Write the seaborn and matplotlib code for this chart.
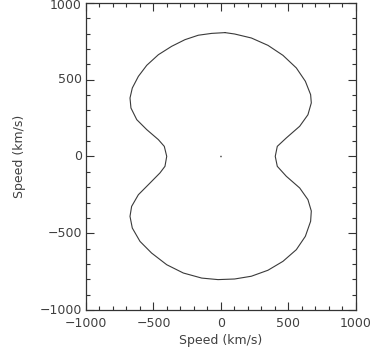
import matplotlib
matplotlib.use("Agg")
import matplotlib.pyplot as plt
from matplotlib.ticker import MultipleLocator
from matplotlib.transforms import ScaledTranslation
import pandas as pd
import seaborn as sns

# Closed velocity contour, traced counter-clockwise from the top
vx = [30, -69, -168, -267, -365, -464, -550, -612, -657, -674, -667, -624,
      -550, -464, -420, -402, -415, -452, -526, -612, -662, -674, -657,
      -600, -514, -402, -279, -143, -22, 101, 225, 348, 459, 558, 625, 664,
      669, 644, 583, 484, 417, 402, 417, 484, 583, 644, 669, 664, 625, 558,
      459, 348, 225, 101, 30]
vy = [807, 802, 790, 761, 718, 663, 594, 522, 446, 381, 316, 240,
      175, 110, 66, 1, -64, -107, -173, -249, -325, -390, -466,
      -553, -629, -705, -759, -792, -802, -798, -780, -741, -683, -607,
      -520, -422, -355, -281, -205, -129, -64, 1, 66, 121, 197, 272, 349,
      403, 490, 577, 659, 724, 772, 798, 807]

# Central reference point
cx = [0]
cy = [0]

axis_min, axis_max = -1000, 1000
y_ticks = [-1000, -500, 0, 500, 1000]
y_tick_labels = ["\u22121000", "\u2212500", "0", "500", "1000"]
label_x = "Speed (km/s)"
label_y = "Speed (km/s)"

sns.set_theme(style="white")
plt.rcParams["font.family"] = ["DejaVu Sans"]

fig = plt.figure(figsize=(3.8, 3.56), dpi=100)
ax = fig.add_axes([0.2263, 0.1292, 0.7105, 0.8624])

curve = pd.DataFrame({"vx": vx, "vy": vy})
sns.lineplot(data=curve, x="vx", y="vy", sort=False, estimator=None,
             color="#3a3a3a", linewidth=0.8, ax=ax)
sns.scatterplot(x=cx, y=cy, s=1.5, color="#555555", edgecolor="none", ax=ax)

ax.set_xlim(axis_min, axis_max)
ax.set_ylim(axis_min, axis_max)
ax.xaxis.set_major_locator(MultipleLocator(500))
ax.xaxis.set_minor_locator(MultipleLocator(100))
ax.yaxis.set_major_locator(MultipleLocator(500))
ax.yaxis.set_minor_locator(MultipleLocator(100))

text_color = "#404040"
ax.tick_params(which="both", direction="in", top=True, right=True,
               bottom=True, left=True, color="#333333", width=0.8,
               labelcolor=text_color, labelsize=9, labelleft=False)
ax.tick_params(which="major", length=5.5, pad=5)
ax.tick_params(which="minor", length=2.8)

# y tick labels drawn as text so the top one can sit inside the figure
for v, lab in zip(y_ticks, y_tick_labels):
    dy = -2.5 / 100 if v == axis_max else 0
    ax.text(0, v, lab, fontsize=9, color=text_color, ha="right", va="center",
            transform=ax.get_yaxis_transform() +
            ScaledTranslation(-4 / 100, dy, fig.dpi_scale_trans))

for s in ax.spines.values():
    s.set_color("#333333")
    s.set_linewidth(0.9)

ax.set_xlabel(label_x, fontsize=9, color=text_color, labelpad=3)
ax.set_ylabel(label_y, fontsize=9, color=text_color)
ax.yaxis.set_label_coords(-0.222, 0.5)

fig.savefig("out.png", dpi=100, facecolor="white")
